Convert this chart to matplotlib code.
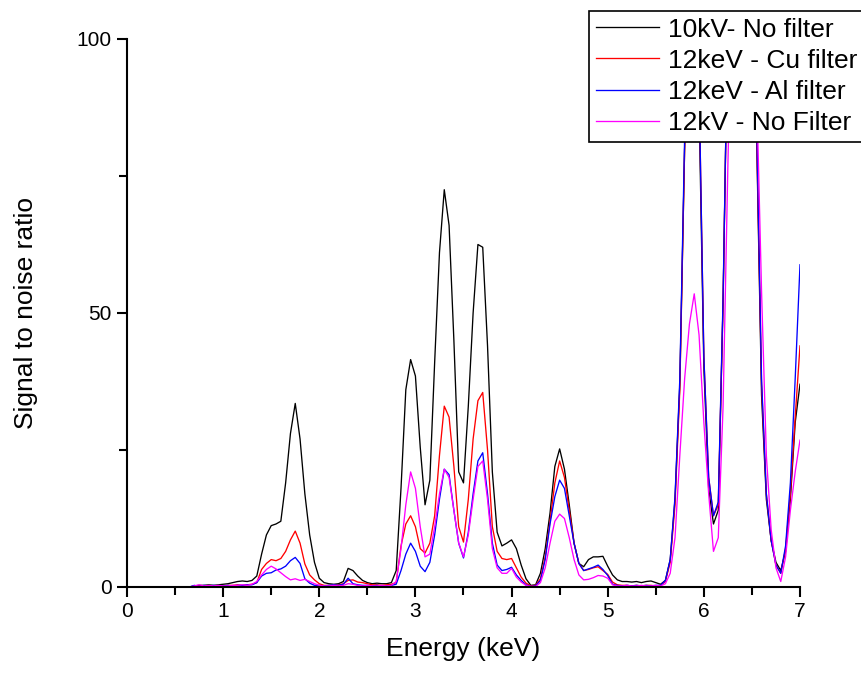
import numpy as np
import matplotlib
matplotlib.use("Agg")
import matplotlib.pyplot as plt
from matplotlib.ticker import MultipleLocator

plt.rcParams['font.family'] = ['Liberation Sans', 'DejaVu Sans']

# energy grid, 0.05 keV steps from 0 to 7 keV
energy = np.linspace(0, 7, 141)

# values, one row per keV (0.00 ... 0.95 etc.)
snr_10kv_nofilter = [
    0, 0, 0, 0, 0, 0, 0, 0, 0, 0, 0, 0, 0, 0, 0.2, 0.3, 0.3, 0.4, 0.3, 0.4,
    0.5, 0.6, 0.8, 1.0, 1.1, 1.0, 1.2, 2.0, 6.0, 9.5, 11.2, 11.5, 12.0, 19.0, 28.0, 33.5, 27.0, 17.0, 9.5, 4.5,
    1.6, 0.8, 0.6, 0.5, 0.6, 1.0, 3.4, 3.0, 2.0, 1.2, 0.8, 0.6, 0.7, 0.6, 0.6, 0.8, 3.0, 18.0, 36.0, 41.5,
    38.5, 25.5, 15.0, 19.5, 41.0, 61.0, 72.5, 66.0, 45.0, 21.0, 19.0, 33.0, 50.0, 62.5, 62.0, 44.0, 21.0, 10.0, 7.5, 8.0,
    8.6, 7.0, 4.0, 1.5, 0.3, 0.4, 2.5, 7.0, 13.5, 22.0, 25.2, 21.5, 15.0, 8.0, 4.3, 3.7, 5.0, 5.5, 5.5, 5.6,
    3.8, 2.2, 1.3, 1.0, 1.0, 0.9, 1.0, 0.8, 1.0, 1.1, 0.8, 0.5, 1.2, 5.0, 16.0, 37.0, 80.0, 115.0, 120.0, 88.0,
    40.0, 18.0, 11.5, 14.0, 52.0, 105.0, 125.0, 115.0, 100.0, 105.0, 120.0, 81.0, 35.0, 16.0, 8.5, 4.5, 3.0, 6.5, 16.0, 30.0,
    37.0,
]
snr_12kev_cu = [
    0, 0, 0, 0, 0, 0, 0, 0, 0, 0, 0, 0, 0, 0, 0.1, 0.2, 0.1, 0.2, 0.2, 0.2,
    0.2, 0.3, 0.3, 0.4, 0.3, 0.4, 0.5, 0.8, 3.2, 4.3, 5.0, 4.8, 5.2, 6.5, 8.6, 10.2, 8.0, 4.2, 2.2, 1.3,
    0.6, 0.3, 0.3, 0.3, 0.4, 0.6, 1.2, 1.3, 0.9, 0.8, 0.6, 0.4, 0.4, 0.3, 0.4, 0.5, 0.8, 7.5, 11.5, 13.0,
    11.0, 7.0, 6.2, 8.0, 13.0, 24.0, 33.0, 31.0, 22.0, 11.0, 8.2, 16.0, 27.0, 34.0, 35.5, 25.0, 11.0, 6.5, 5.2, 5.0,
    5.2, 3.5, 1.8, 0.7, 0.2, 0.3, 1.5, 5.5, 12.0, 19.0, 23.0, 20.0, 14.0, 8.0, 4.3, 3.0, 3.2, 3.5, 3.7, 3.0,
    2.3, 0.9, 0.4, 0.3, 0.3, 0.2, 0.3, 0.2, 0.3, 0.3, 0.2, 0.3, 1.0, 4.5, 15.0, 36.0, 80.0, 115.0, 120.0, 92.0,
    42.0, 20.0, 13.0, 15.0, 52.0, 105.0, 125.0, 115.0, 100.0, 105.0, 120.0, 82.0, 37.0, 17.0, 8.5, 4.0, 2.5, 7.0, 17.0, 31.0,
    44.0,
]
snr_12kev_al = [
    0, 0, 0, 0, 0, 0, 0, 0, 0, 0, 0, 0, 0, 0, 0.3, 0.1, 0.3, 0.2, 0.3, 0.2,
    0.2, 0.3, 0.2, 0.3, 0.3, 0.4, 0.4, 0.8, 2.0, 2.5, 2.6, 3.1, 3.3, 3.8, 4.8, 5.4, 4.3, 1.5, 0.7, 0.3,
    0.3, 0.2, 0.3, 0.4, 0.3, 0.5, 1.6, 0.6, 0.4, 0.3, 0.3, 0.2, 0.3, 0.2, 0.2, 0.3, 0.5, 3.0, 6.0, 8.0,
    6.5, 3.8, 2.8, 4.5, 9.5, 16.0, 21.5, 20.5, 14.0, 8.0, 5.3, 10.0, 17.0, 23.0, 24.5, 17.0, 8.0, 4.0, 3.0, 3.2,
    3.6, 2.2, 1.2, 0.4, 0.1, 0.2, 1.2, 5.0, 11.5, 16.5, 19.5, 18.0, 13.0, 8.0, 4.3, 3.0, 3.3, 3.6, 4.0, 3.2,
    2.1, 0.5, 0.3, 0.2, 0.3, 0.2, 0.3, 0.2, 0.3, 0.2, 0.3, 0.3, 1.2, 5.0, 16.5, 38.0, 82.0, 115.0, 120.0, 92.0,
    42.0, 20.0, 13.0, 15.5, 53.0, 105.0, 125.0, 115.0, 100.0, 105.0, 120.0, 84.0, 38.0, 17.0, 8.5, 4.0, 2.5, 7.5, 19.0, 38.0,
    58.8,
]
snr_12kv_nofilter = [
    0, 0, 0, 0, 0, 0, 0, 0, 0, 0, 0, 0, 0, 0, 0.2, 0.4, 0.2, 0.3, 0.2, 0.3,
    0.2, 0.2, 0.3, 0.3, 0.4, 0.3, 0.5, 1.0, 2.2, 3.2, 3.8, 3.3, 2.6, 1.9, 1.3, 1.5, 1.2, 1.4, 1.0, 0.6,
    0.3, 0.2, 0.2, 0.3, 0.2, 0.3, 0.6, 0.5, 0.3, 0.2, 0.3, 0.2, 0.2, 0.3, 0.2, 0.3, 1.0, 7.0, 15.0, 21.0,
    18.0, 11.0, 5.5, 6.0, 11.0, 17.0, 21.5, 20.0, 14.0, 8.0, 5.5, 9.5, 16.0, 22.0, 23.0, 16.0, 7.0, 3.5, 2.5, 2.5,
    3.4, 1.8, 0.9, 0.3, 0.1, 0.1, 0.8, 3.5, 8.0, 12.0, 13.3, 12.5, 9.0, 5.0, 2.2, 1.3, 1.4, 1.7, 2.1, 2.0,
    1.6, 0.4, 0.2, 0.2, 0.3, 0.2, 0.2, 0.3, 0.2, 0.2, 0.3, 0.2, 0.6, 2.5, 9.0, 24.0, 38.0, 48.0, 53.5, 46.0,
    30.0, 17.0, 6.5, 9.0, 33.0, 77.0, 115.0, 115.0, 100.0, 105.0, 115.0, 90.0, 54.0, 24.0, 10.5, 3.5, 1.0, 5.5, 14.0, 21.0,
    26.8,
]

labels = ['10kV- No filter', '12keV - Cu filter', '12keV - Al filter', '12kV - No Filter']
colors = ['black', '#ff0000', '#0000ff', '#ff00ff']
series = [snr_10kv_nofilter, snr_12kev_cu, snr_12kev_al, snr_12kv_nofilter]

fig = plt.figure(figsize=(8.62, 6.75), dpi=100)
ax = fig.add_axes([127/862, 88/675, 673/862, 548/675])

for y, c, lab in zip(series, colors, labels):
    ax.plot(energy, y, color=c, lw=0.95, label=lab)

ax.set_xlim(0, 7)
ax.set_ylim(0, 100)
ax.xaxis.set_major_locator(MultipleLocator(1))
ax.xaxis.set_minor_locator(MultipleLocator(0.5))
ax.yaxis.set_major_locator(MultipleLocator(50))
ax.yaxis.set_minor_locator(MultipleLocator(25))

for s in ['top', 'right']:
    ax.spines[s].set_visible(False)
for s in ['left', 'bottom']:
    ax.spines[s].set_linewidth(1.5)

ax.tick_params(which='major', direction='out', length=7, width=1.5, labelsize=15, pad=4)
ax.tick_params(which='minor', direction='out', length=6, width=1.5)

ax.set_xlabel('Energy (keV)', fontsize=19, labelpad=11)
ax.set_ylabel('Signal to noise ratio', fontsize=19)
ax.yaxis.set_label_coords(-0.132, 0.5)

leg = fig.legend(loc='upper left', bbox_to_anchor=(589/862, 1 - 11/675),
                 fontsize=19, frameon=True, fancybox=False, framealpha=1,
                 edgecolor='black', borderpad=0.25, labelspacing=0.27,
                 handlelength=2.4, handletextpad=0.35, borderaxespad=0)
leg.get_frame().set_linewidth(1.2)

fig.savefig('out.png', dpi=100)
